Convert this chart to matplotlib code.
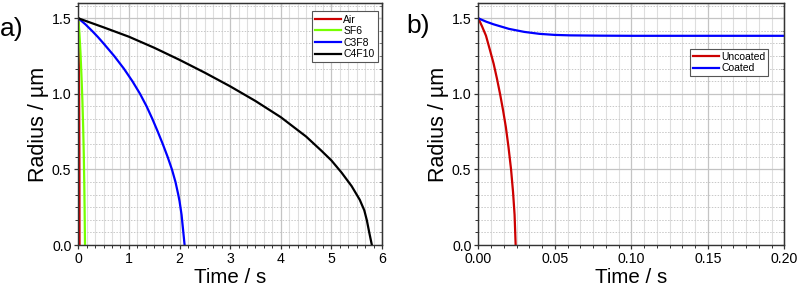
import matplotlib
matplotlib.use("Agg")
import matplotlib.pyplot as plt
from matplotlib.ticker import MultipleLocator, FormatStrFormatter

plt.rcParams['font.family'] = ['Liberation Sans', 'DejaVu Sans']

# ---- data -----------------------------------------------------------------
# panel a) bubble radius (um) vs time (s) for different gases
air_t = [0.0, 0.004, 0.008, 0.012, 0.015, 0.018, 0.020, 0.022, 0.023, 0.024]
air_r = [1.5, 1.40, 1.27, 1.12, 0.98, 0.80, 0.63, 0.42, 0.22, 0.0]

sf6_t = [0.0, 0.022, 0.043, 0.062, 0.080, 0.095, 0.108, 0.118, 0.125, 0.132]
sf6_r = [1.5, 1.40, 1.27, 1.12, 0.96, 0.79, 0.60, 0.40, 0.22, 0.0]

c3f8_t = [0.0, 0.14, 0.27, 0.39, 0.50, 0.71, 0.90, 1.07, 1.22, 1.35, 1.465,
          1.57, 1.67, 1.765, 1.85, 1.92, 1.975, 2.00, 2.04, 2.07, 2.10]
c3f8_r = [1.5, 1.46, 1.417, 1.375, 1.333, 1.25, 1.167, 1.083, 1.0, 0.917,
          0.833, 0.75, 0.667, 0.583, 0.5, 0.417, 0.333, 0.29, 0.2, 0.1, 0.0]

c4f10_t = [0.0, 0.5, 1.0, 1.5, 2.0, 2.5, 3.0, 3.5, 4.0, 4.5, 4.8, 5.0,
           5.2, 5.4, 5.56, 5.65, 5.70, 5.75, 5.80]
c4f10_r = [1.5, 1.44, 1.378, 1.305, 1.225, 1.14, 1.05, 0.953, 0.846, 0.718,
           0.625, 0.56, 0.48, 0.39, 0.30, 0.23, 0.165, 0.08, 0.0]

# panel b) uncoated vs coated bubble
unc_t = [0.0, 0.0025, 0.0050, 0.0076, 0.0100, 0.0122, 0.0142, 0.0162,
         0.0180, 0.0197, 0.0214, 0.0227, 0.0237, 0.0244]
unc_r = [1.5, 1.445, 1.385, 1.29, 1.20, 1.10, 1.0, 0.89, 0.78, 0.65,
         0.50, 0.35, 0.20, 0.0]

coat_t = [0.0, 0.005, 0.010, 0.015, 0.020, 0.030, 0.040, 0.050, 0.060,
          0.080, 0.100, 0.200]
coat_r = [1.5, 1.478, 1.46, 1.445, 1.43, 1.41, 1.397, 1.39, 1.387,
          1.385, 1.384, 1.384]

RED = '#cc0000'
GREEN = '#77ff00'
BLUE = '#0000ff'


def style_axes(ax, xmaj, xmin, xfmt):
    ax.set_ylim(0, 1.6)
    ax.xaxis.set_major_locator(MultipleLocator(xmaj))
    ax.xaxis.set_minor_locator(MultipleLocator(xmin))
    ax.yaxis.set_major_locator(MultipleLocator(0.5))
    ax.yaxis.set_minor_locator(MultipleLocator(0.5 / 6))
    ax.xaxis.set_major_formatter(FormatStrFormatter(xfmt))
    ax.yaxis.set_major_formatter(FormatStrFormatter('%.1f'))
    ax.xaxis.grid(True, which='major', color='#c4c4c4', lw=0.9, ls='-')
    ax.yaxis.grid(True, which='major', color='#c4c4c4', lw=0.9, ls='-')
    ax.xaxis.grid(True, which='minor', color='#dedede', lw=0.8, ls='-')
    ax.yaxis.grid(True, which='minor', color='#c8c8c8', lw=0.7, ls=(0, (1.5, 1.5)))
    ax.set_axisbelow(True)
    for s in ax.spines.values():
        s.set_color('#333333')
        s.set_linewidth(1.0)
    ax.tick_params(which='major', direction='out', length=3, width=0.9,
                   labelsize=10.2, pad=2, color='#333333')
    ax.tick_params(which='minor', direction='out', length=2, width=0.7,
                   color='#333333')
    # mirrored inward ticks on top and right
    top = ax.secondary_xaxis('top')
    top.xaxis.set_major_locator(MultipleLocator(xmaj))
    top.xaxis.set_minor_locator(MultipleLocator(xmin))
    top.tick_params(which='major', direction='in', length=3, labeltop=False, color='#333333')
    top.tick_params(which='minor', direction='in', length=2, color='#333333')
    right = ax.secondary_yaxis('right')
    right.yaxis.set_major_locator(MultipleLocator(0.5))
    right.yaxis.set_minor_locator(MultipleLocator(0.5 / 6))
    right.tick_params(which='major', direction='in', length=3, labelright=False, color='#333333')
    right.tick_params(which='minor', direction='in', length=2, color='#333333')
    ax.set_xlabel('Time / s', fontsize=14.8, labelpad=1.5)
    ax.set_ylabel('Radius / µm', fontsize=15.5, labelpad=2)


fig = plt.figure(figsize=(8, 2.87), dpi=100)
ax1 = fig.add_axes([0.0979, 0.146, 0.3796, 0.843])
ax2 = fig.add_axes([0.5979, 0.146, 0.3825, 0.843])

# ---- panel a --------------------------------------------------------------
ax1.plot(air_t, air_r, color=RED, lw=1.6, label='Air')
ax1.plot(sf6_t, sf6_r, color=GREEN, lw=1.6, label='SF6')
ax1.plot(c3f8_t, c3f8_r, color=BLUE, lw=1.6, label='C3F8')
ax1.plot(c4f10_t, c4f10_r, color='black', lw=1.6, label='C4F10')
ax1.set_xlim(0, 6)
style_axes(ax1, 1, 1 / 6, '%d')
leg1 = ax1.legend(loc='upper right', bbox_to_anchor=(0.986, 0.966),
                  fontsize=7.5, handlelength=2.5, handletextpad=0.2,
                  labelspacing=0.15, borderpad=0.3, borderaxespad=0,
                  fancybox=False, framealpha=1, edgecolor='#555555')
leg1.get_frame().set_linewidth(0.8)

# ---- panel b --------------------------------------------------------------
ax2.plot(unc_t, unc_r, color=RED, lw=1.6, label='Uncoated')
ax2.plot(coat_t, coat_r, color=BLUE, lw=1.6, label='Coated')
ax2.set_xlim(0, 0.2)
style_axes(ax2, 0.05, 0.05 / 6, '%.2f')
leg2 = ax2.legend(loc='upper right', bbox_to_anchor=(0.948, 0.812),
                  fontsize=7.5, handlelength=2.5, handletextpad=0.2,
                  labelspacing=0.15, borderpad=0.3, borderaxespad=0,
                  fancybox=False, framealpha=1, edgecolor='#555555')
leg2.get_frame().set_linewidth(0.8)

fig.text(0.0, 0.9, 'a)', fontsize=19, ha='left', va='center')
fig.text(0.508, 0.91, 'b)', fontsize=19, ha='left', va='center')

fig.savefig('out.png', dpi=100)
